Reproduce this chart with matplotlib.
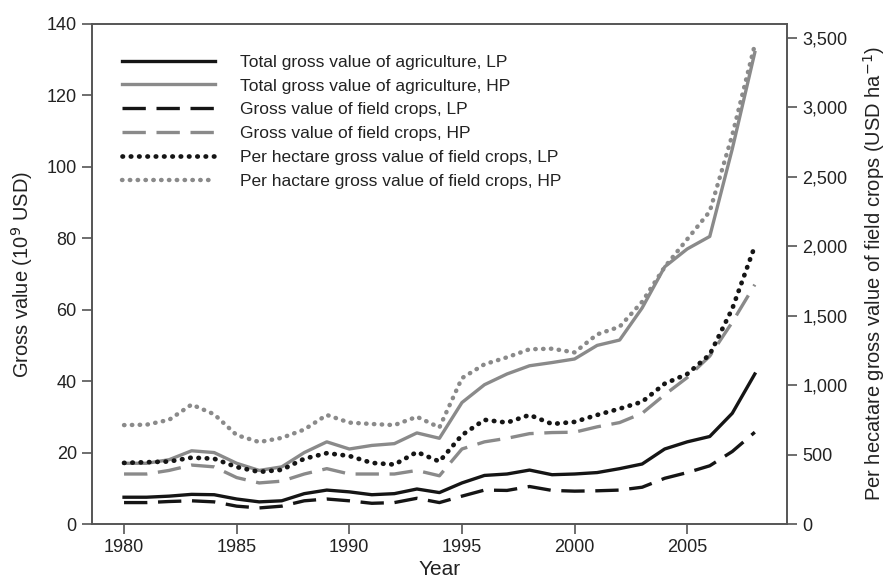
import matplotlib
matplotlib.use('Agg')
import matplotlib.pyplot as plt
from matplotlib.ticker import FuncFormatter

plt.rcParams['font.family'] = ['Liberation Sans', 'DejaVu Sans']

years = list(range(1980, 2009))

# gross value, 10^9 USD (left axis)
total_lp = [7.5, 7.5, 7.8, 8.3, 8.2, 7.0, 6.2, 6.5, 8.5, 9.5, 9.0, 8.2, 8.5, 9.8, 8.8,
            11.5, 13.6, 14.0, 15.1, 13.8, 14.0, 14.4, 15.5, 16.8, 21.0, 23.0, 24.5, 31.0, 42.0]
total_hp = [17.0, 17.0, 18.0, 20.5, 20.0, 17.0, 15.0, 16.0, 20.0, 23.0, 21.0, 22.0, 22.5, 25.5, 24.0,
            34.0, 39.0, 42.0, 44.3, 45.2, 46.2, 50.0, 51.5, 60.5, 72.0, 77.0, 80.5, 105.0, 132.0]
crops_lp = [6.0, 6.0, 6.3, 6.5, 6.2, 5.0, 4.5, 5.0, 6.5, 7.0, 6.5, 5.8, 6.0, 7.2, 6.0,
            7.8, 9.5, 9.4, 10.5, 9.4, 9.2, 9.3, 9.5, 10.3, 12.8, 14.4, 16.3, 20.3, 25.7]
crops_hp = [14.0, 14.0, 15.0, 16.5, 16.0, 13.0, 11.5, 12.0, 14.0, 15.5, 14.0, 14.0, 14.0, 15.0, 13.5,
            21.0, 23.0, 24.0, 25.3, 25.6, 25.7, 27.2, 28.4, 31.0, 36.2, 41.0, 47.0, 56.5, 67.0]

# per hectare gross value of field crops, USD/ha (right axis)
perha_lp = [440, 445, 450, 478, 470, 410, 375, 390, 470, 510, 490, 440, 428, 518, 450,
            640, 750, 730, 785, 720, 735, 785, 830, 880, 1010, 1080, 1220, 1550, 2000]
perha_hp = [712, 715, 750, 860, 790, 640, 590, 620, 680, 785, 730, 720, 712, 772, 695,
            1050, 1150, 1200, 1258, 1262, 1235, 1365, 1420, 1600, 1850, 2050, 2250, 2800, 3450]

labels = ['Total gross value of agriculture, LP',
          'Total gross value of agriculture, HP',
          'Gross value of field crops, LP',
          'Gross value of field crops, HP',
          'Per hectare gross value of field crops, LP',
          'Per hactare gross value of field crops, HP']

BLACK = '#151515'
GRAY = '#8a8a8a'
AX = '#555555'
TXT = '#222222'

fig = plt.figure(figsize=(8.91, 5.87), dpi=100)
ax = fig.add_axes([0.1033, 0.1073, 0.78, 0.852])
ax2 = ax.twinx()

dash = (0, (7, 3.2))
dot = (0, (0.1, 1.66))
kw = dict(solid_joinstyle='round', dash_joinstyle='round')

h1, = ax.plot(years, total_lp, color=BLACK, lw=2.4, **kw)
h2, = ax.plot(years, total_hp, color=GRAY, lw=2.4, **kw)
h3, = ax.plot(years, crops_lp, color=BLACK, lw=2.4, linestyle=dash, **kw)
h4, = ax.plot(years, crops_hp, color=GRAY, lw=2.4, linestyle=dash, **kw)
h5, = ax2.plot(years, perha_lp, color=BLACK, lw=3.4, linestyle=dot, dash_capstyle='round')
h6, = ax2.plot(years, perha_hp, color=GRAY, lw=3.2, linestyle=dot, dash_capstyle='round')

ax.set_xlim(1978.58, 2009.43)
ax.set_ylim(0, 140)
ax2.set_ylim(0, 3600)
ax.set_xticks(range(1980, 2006, 5))
ax.set_yticks(range(0, 141, 20))
ax2.set_yticks(range(0, 3501, 500))
ax2.yaxis.set_major_formatter(FuncFormatter(lambda v, p: f'{int(v):,}'))

for a in (ax, ax2):
    for s in a.spines.values():
        s.set_color(AX)
        s.set_linewidth(1.2)
    a.tick_params(direction='out', length=7, width=1.2, color=AX,
                  labelsize=13, labelcolor=TXT, pad=4)

ax.set_xlabel('Year', fontsize=15, color=TXT, labelpad=3)
ax.set_ylabel('Gross value (10$^9$ USD)', fontsize=14.5, color=TXT, labelpad=8)
ax2.set_ylabel('Per hecatare gross value of field crops (USD ha$^{-1}$)',
               fontsize=14.5, color=TXT, labelpad=10)

ax.legend([h1, h2, h3, h4, h5, h6], labels, loc='upper left',
          bbox_to_anchor=(0.02, 0.97), frameon=False, fontsize=12.5,
          handlelength=5.4, handletextpad=1.4, labelspacing=0.5,
          labelcolor=TXT)

fig.savefig('out.png', dpi=100)
